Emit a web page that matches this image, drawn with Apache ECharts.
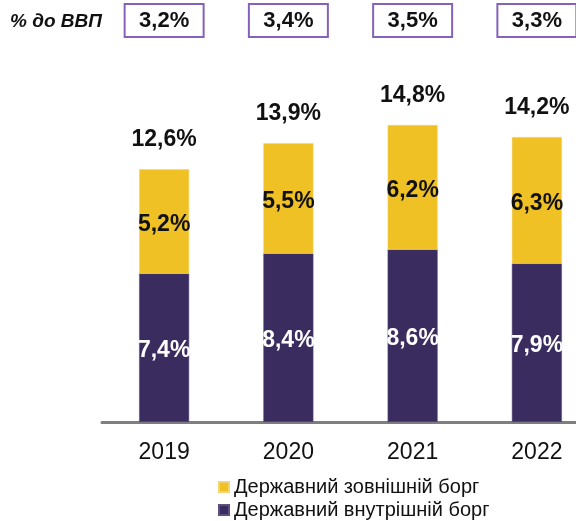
<!DOCTYPE html>
<html>
<head>
<meta charset="utf-8">
<script src="https://cdn.jsdelivr.net/npm/echarts@6/dist/echarts.min.js"></script>
<style>
  html, body { margin: 0; padding: 0; background: #ffffff; }
  #chart { width: 576px; height: 521px; }
</style>
</head>
<body>
<div id="chart"></div>
<script>
  // роки
  const years = ['2019', '2020', '2021', '2022'];
  // державний внутрішній борг, % до ВВП
  const domestic = [7.4, 8.4, 8.6, 7.9];
  // державний зовнішній борг, % до ВВП
  const external = [5.2, 5.5, 6.2, 6.3];
  // разом
  const totals = [12.6, 13.9, 14.8, 14.2];
  // верхній ряд у рамках
  const gdpShare = [3.2, 3.4, 3.5, 3.3];

  const fmt = v => v.toFixed(1).replace('.', ',') + '%';
  const font = 'Arial, "Liberation Sans", sans-serif';

  const chart = echarts.init(document.getElementById('chart'));

  chart.setOption({
    animation: false,
    title: {
      text: '% до ВВП',
      left: 10,
      top: 12,
      padding: 0,
      textStyle: {
        fontFamily: font,
        fontSize: 19,
        fontWeight: 'bold',
        fontStyle: 'italic',
        color: '#111111'
      }
    },
    // сітка ширша за полотно: остання категорія обрізана правим краєм
    grid: {
      left: 102,
      width: 497,
      top: 101,
      bottom: 99,
      outerBoundsMode: 'none',
      containLabel: false
    },
    legend: {
      orient: 'vertical',
      left: 218,
      bottom: 1,
      padding: 0,
      itemGap: 3,
      itemWidth: 10,
      itemHeight: 10,
      icon: 'rect',
      data: ['Державний зовнішній борг', 'Державний внутрішній борг'],
      textStyle: { fontFamily: font, fontSize: 20, color: '#111111' }
    },
    xAxis: [{
      type: 'category',
      data: years,
      axisLine: { lineStyle: { color: '#7f7f7f', width: 3 } },
      axisTick: { show: false },
      axisLabel: { fontFamily: font, fontSize: 23, color: '#111111', margin: 19 }
    }, {
      // верхній ряд з рамками
      type: 'category',
      position: 'top',
      data: gdpShare.map(fmt),
      axisLine: { show: false },
      axisTick: { show: false },
      axisLabel: {
        fontFamily: font,
        fontSize: 22,
        fontWeight: 'bold',
        color: '#111111',
        margin: 65,
        width: 77,
        align: 'center',
        lineHeight: 27,
        padding: [2, 0],
        borderColor: '#8462b9',
        borderWidth: 2,
        backgroundColor: '#ffffff'
      }
    }],
    yAxis: {
      type: 'value',
      min: 0,
      max: 16,
      show: false
    },
    series: [{
      name: 'Державний внутрішній борг',
      type: 'bar',
      stack: 'debt',
      barWidth: 50,
      data: domestic,
      itemStyle: { color: '#3b2c60', borderColor: '#5c5080', borderWidth: 0.5 },
      label: {
        show: true,
        position: 'inside',
        offset: [0, 3],
        formatter: p => fmt(p.value),
        fontFamily: font,
        fontSize: 23,
        fontWeight: 'bold',
        color: '#ffffff'
      }
    }, {
      name: 'Державний зовнішній борг',
      type: 'bar',
      stack: 'debt',
      barWidth: 50,
      data: external,
      itemStyle: { color: '#efc124', borderColor: '#f3d470', borderWidth: 0.5 },
      label: {
        show: true,
        position: 'inside',
        offset: [0, 3],
        formatter: p => fmt(p.value),
        fontFamily: font,
        fontSize: 23,
        fontWeight: 'bold',
        color: '#111111'
      }
    }, {
      // підписи сум над стовпчиками
      type: 'scatter',
      data: totals,
      symbolSize: 0,
      silent: true,
      itemStyle: { opacity: 1 },
      label: {
        show: true,
        position: 'top',
        distance: 18,
        formatter: p => fmt(p.value),
        fontFamily: font,
        fontSize: 23,
        fontWeight: 'bold',
        color: '#111111'
      }
    }]
  });
</script>
</body>
</html>
